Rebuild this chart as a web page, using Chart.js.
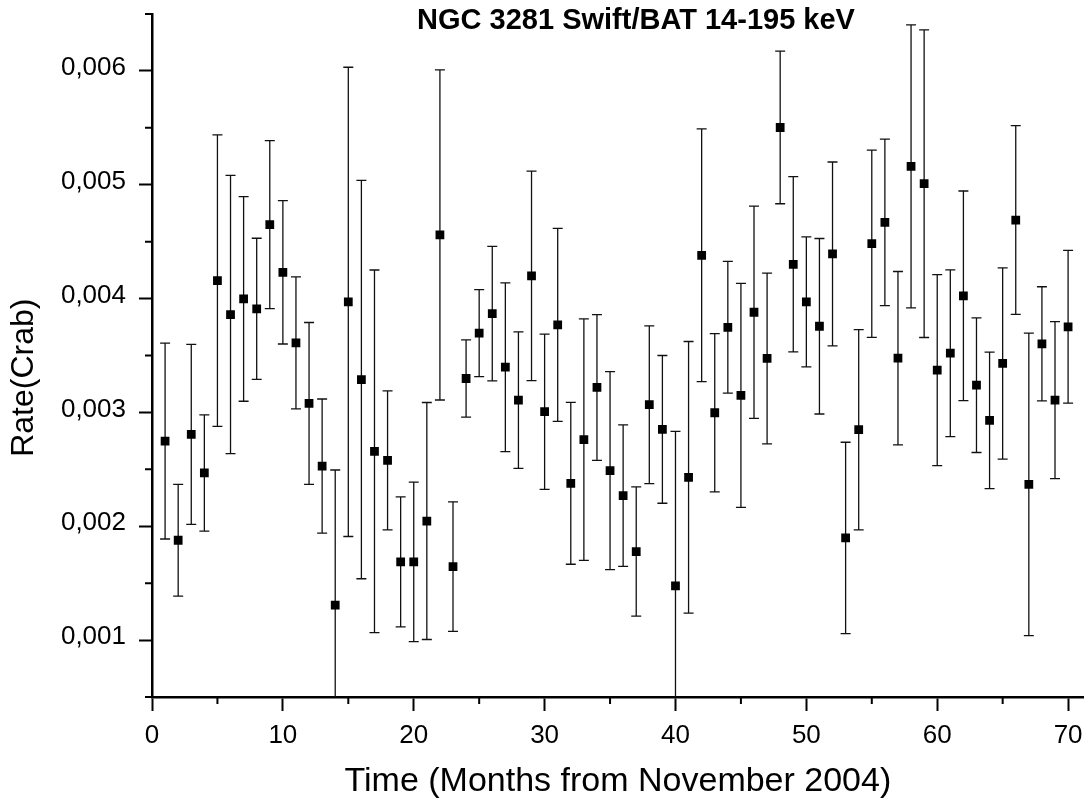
<!DOCTYPE html>
<html>
<head>
<meta charset="utf-8">
<title>NGC 3281 Swift/BAT 14-195 keV</title>
<script src="https://cdn.jsdelivr.net/npm/chart.js@4.4.1/dist/chart.umd.min.js"></script>
<style>
  html, body { margin: 0; padding: 0; background: #fff; }
  #wrap { width: 1090px; height: 803px; }
</style>
</head>
<body>
<div id="wrap"><canvas id="lightcurve" width="1090" height="803"></canvas></div>
<script>
// Swift/BAT monthly light curve of NGC 3281
const months = [1, 2, 3, 4, 5, 6, 7, 8, 9, 10, 11, 12, 13, 14, 15, 16, 17, 18, 19, 20,
    21, 22, 23, 24, 25, 26, 27, 28, 29, 30, 31, 32, 33, 34, 35, 36, 37, 38, 39, 40,
    41, 42, 43, 44, 45, 46, 47, 48, 49, 50, 51, 52, 53, 54, 55, 56, 57, 58, 59, 60,
    61, 62, 63, 64, 65, 66, 67, 68, 69, 70];

// rate in Crab units
const rate = [0.002748, 0.001877, 0.002807, 0.002468, 0.004158, 0.003860, 0.003997, 0.003910, 0.004649, 0.004231,
    0.003611, 0.003079, 0.002529, 0.001307, 0.003971, 0.003289, 0.002658, 0.002579, 0.001687, 0.001687,
    0.002046, 0.004559, 0.001646, 0.003298, 0.003696, 0.003868, 0.003397, 0.003108, 0.004199, 0.003006,
    0.003769, 0.002377, 0.002761, 0.003219, 0.002489, 0.002269, 0.001778, 0.003068, 0.002851, 0.001476,
    0.002430, 0.004380, 0.002997, 0.003748, 0.003149, 0.003880, 0.003474, 0.005503, 0.004301, 0.003971,
    0.003757, 0.004392, 0.001897, 0.002848, 0.004482, 0.004669, 0.003476, 0.005161, 0.005009, 0.003371,
    0.003520, 0.004024, 0.003239, 0.002930, 0.003430, 0.004690, 0.002368, 0.003603, 0.003108, 0.003752];

// 1-sigma error on the rate
const rateErr = [0.000860, 0.000491, 0.000791, 0.000510, 0.001281, 0.001222, 0.000899, 0.000620, 0.000738, 0.000630,
    0.000580, 0.000711, 0.000589, 0.001187, 0.002061, 0.001750, 0.001593, 0.000610, 0.000571, 0.000700,
    0.001041, 0.001450, 0.000569, 0.000339, 0.000382, 0.000591, 0.000741, 0.000599, 0.000920, 0.000682,
    0.000848, 0.000711, 0.001060, 0.000640, 0.000870, 0.000621, 0.000568, 0.000693, 0.000649, 0.001357,
    0.001193, 0.001110, 0.000695, 0.000579, 0.000984, 0.000933, 0.000750, 0.000670, 0.000770, 0.000571,
    0.000771, 0.000808, 0.000841, 0.000879, 0.000822, 0.000731, 0.000762, 0.001243, 0.001351, 0.000839,
    0.000732, 0.000921, 0.000591, 0.000600, 0.000840, 0.000829, 0.001329, 0.000501, 0.000690, 0.000671];

const FONT = "'Liberation Sans', Arial, sans-serif";

function isMajorY(v) {
    return Math.round(v / 0.0005) % 2 === 0;
}
function isMajorX(v) {
    return Math.round(v) % 10 === 0;
}

// error bars behind the squares
const errorBars = {
    id: 'errorBars',
    beforeDatasetsDraw(chart) {
        const { ctx, chartArea, scales: { x, y } } = chart;
        ctx.save();
        ctx.beginPath();
        ctx.rect(chartArea.left, chartArea.top, chartArea.width, chartArea.height);
        ctx.clip();
        ctx.strokeStyle = '#111';
        ctx.lineWidth = 1.3;
        months.forEach(function (m, i) {
            const px = x.getPixelForValue(m);
            const top = y.getPixelForValue(rate[i] + rateErr[i]);
            const bot = y.getPixelForValue(rate[i] - rateErr[i]);
            ctx.beginPath();
            ctx.moveTo(px, top); ctx.lineTo(px, bot);
            ctx.moveTo(px - 5, top); ctx.lineTo(px + 5, top);
            ctx.moveTo(px - 5, bot); ctx.lineTo(px + 5, bot);
            ctx.stroke();
        });
        ctx.restore();
    }
};

// shorter minor ticks + title written over the plot
const extras = {
    id: 'extras',
    afterDraw(chart) {
        const { ctx, chartArea, scales: { x, y } } = chart;
        ctx.save();
        ctx.strokeStyle = '#000';
        ctx.lineWidth = 2;
        ctx.beginPath();
        x.ticks.forEach(function (t) {
            if (!isMajorX(t.value)) {
                const px = x.getPixelForValue(t.value);
                ctx.moveTo(px, chartArea.bottom);
                ctx.lineTo(px, chartArea.bottom + 7);
            }
        });
        y.ticks.forEach(function (t) {
            if (!isMajorY(t.value)) {
                const py = y.getPixelForValue(t.value);
                ctx.moveTo(chartArea.left - 7, py);
                ctx.lineTo(chartArea.left, py);
            }
        });
        ctx.stroke();

        ctx.fillStyle = '#000';
        ctx.font = 'bold 29px ' + FONT;
        ctx.textAlign = 'center';
        ctx.textBaseline = 'alphabetic';
        ctx.fillText('NGC 3281 Swift/BAT 14-195 keV', 636, 28.5);
        ctx.restore();
    }
};

const points = months.map(function (m, i) { return { x: m, y: rate[i] }; });

new Chart(document.getElementById('lightcurve').getContext('2d'), {
    type: 'scatter',
    data: {
        datasets: [{
            data: points,
            pointStyle: 'rect',
            pointRadius: 6.2,
            pointBackgroundColor: '#000',
            pointBorderWidth: 0,
            showLine: false
        }]
    },
    options: {
        responsive: false,
        animation: false,
        events: [],
        layout: { padding: { left: 0, right: 5, top: 14, bottom: 0 } },
        plugins: {
            legend: { display: false },
            tooltip: { enabled: false }
        },
        scales: {
            x: {
                type: 'linear',
                min: 0,
                max: 71.2,
                afterFit(s) { s.height = 106; s.paddingLeft = 0; s.paddingRight = 0; },
                border: { display: true, color: '#000', width: 2.5 },
                grid: {
                    drawOnChartArea: false,
                    drawTicks: true,
                    tickLength: 14,
                    tickWidth: 2,
                    tickColor: function (c) { return c.tick && isMajorX(c.tick.value) ? '#000' : 'rgba(0,0,0,0)'; }
                },
                ticks: {
                    stepSize: 5,
                    includeBounds: false,
                    autoSkip: false,
                    maxRotation: 0,
                    padding: 9,
                    color: '#000',
                    font: { family: FONT, size: 26 },
                    callback: function (v) { return isMajorX(v) ? String(Math.round(v)) : ''; }
                },
                title: {
                    display: true,
                    text: 'Time (Months from November 2004)',
                    color: '#000',
                    font: { family: FONT, size: 34 },
                    padding: { top: 0, bottom: 1 }
                }
            },
            y: {
                type: 'linear',
                min: 0.0005,
                max: 0.0065,
                afterFit(s) { s.width = 152; s.paddingTop = 0; s.paddingBottom = 0; },
                border: { display: true, color: '#000', width: 2.5 },
                grid: {
                    drawOnChartArea: false,
                    drawTicks: true,
                    tickLength: 13,
                    tickWidth: 2,
                    tickColor: function (c) { return c.tick && isMajorY(c.tick.value) ? '#000' : 'rgba(0,0,0,0)'; }
                },
                ticks: {
                    stepSize: 0.0005,
                    includeBounds: false,
                    autoSkip: false,
                    padding: 13,
                    labelOffset: -3,
                    color: '#000',
                    font: { family: FONT, size: 26 },
                    callback: function (v) { return isMajorY(v) ? v.toFixed(3).replace('.', ',') : ''; }
                },
                title: {
                    display: true,
                    text: 'Rate(Crab)     ',
                    color: '#000',
                    font: { family: FONT, size: 32 },
                    padding: { top: 5, bottom: 0 }
                }
            }
        }
    },
    plugins: [errorBars, extras]
});
</script>
</body>
</html>
